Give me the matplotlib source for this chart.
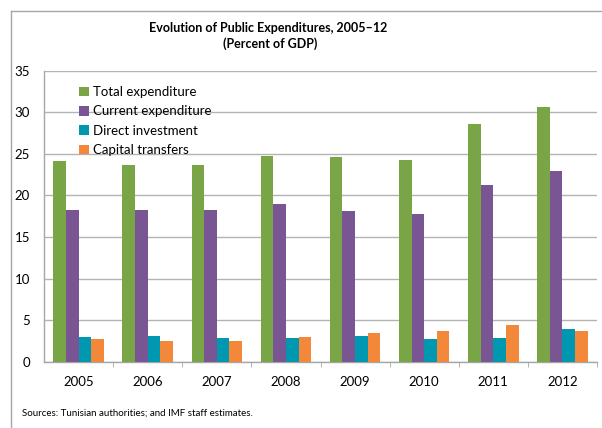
import matplotlib
matplotlib.use("Agg")
import matplotlib.pyplot as plt
from matplotlib.lines import Line2D
from matplotlib.patches import Patch
import numpy as np

plt.rcParams['font.family'] = ['Lato', 'DejaVu Sans']

years = ["2005", "2006", "2007", "2008", "2009", "2010", "2011", "2012"]
total_expenditure = [24.1, 23.6, 23.7, 24.7, 24.6, 24.3, 28.6, 30.6]
current_expenditure = [18.3, 18.2, 18.3, 18.95, 18.1, 17.8, 21.25, 22.9]
direct_investment = [3.0, 3.08, 2.8, 2.8, 3.15, 2.7, 2.85, 3.9]
capital_transfers = [2.7, 2.48, 2.48, 2.93, 3.4, 3.68, 4.4, 3.68]

series_names = ["Total expenditure", "Current expenditure",
                "Direct investment", "Capital transfers"]
series_values = [total_expenditure, current_expenditure,
                 direct_investment, capital_transfers]
colors = ["#7aa547", "#7a5593", "#0097b1", "#f4883a"]

W, H = 602, 428
fig = plt.figure(figsize=(W / 100, H / 100), dpi=100)

# plot area in pixel coordinates
left, right, top, bottom = 44, 597, 70.7, 361.7
ax = fig.add_axes([left / W, 1 - bottom / H, (right - left) / W, (bottom - top) / H])

x = np.arange(len(years))
bw = 0.183
offsets = (np.arange(4) - 1.5) * bw
for vals, off, col, name in zip(series_values, offsets, colors, series_names):
    ax.bar(x + off, vals, width=bw, color=col, edgecolor="none", label=name, zorder=3)

ax.set_xlim(-0.5, len(years) - 0.5)
ax.set_ylim(0, 35)
ax.set_yticks(np.arange(0, 36, 5))
ax.yaxis.grid(True, color="#b3b3b3", linewidth=1.0, zorder=0)
ax.set_axisbelow(True)

ax.set_xticks(x)
ax.set_xticklabels(years)
ax.set_xticks(np.arange(len(years)) + 0.5, minor=True)
ax.tick_params(axis="x", which="major", length=0, pad=10, labelsize=9.5)
ax.tick_params(axis="x", which="minor", length=3.5, direction="out", color="#a6a6a6")
ax.tick_params(axis="y", length=0, pad=10, labelsize=9.5)

for s in ["top", "right"]:
    ax.spines[s].set_visible(False)
for s in ["left", "bottom"]:
    ax.spines[s].set_color("#a6a6a6")
    ax.spines[s].set_linewidth(1.0)

handles = [Patch(facecolor=c, edgecolor="none") for c in colors]
ax.legend(handles, series_names, loc="upper left",
          bbox_to_anchor=(79 / W, 1 - 86 / H), bbox_transform=fig.transFigure,
          frameon=False, fontsize=9.5, handlelength=0.75, handleheight=0.75,
          handletextpad=0.3, labelspacing=0.56, borderaxespad=0, borderpad=0)

fig.text(268 / W, 1 - 28 / H, "Evolution of Public Expenditures, 2005\u201312",
         ha="center", va="center", fontsize=9, fontweight="bold")
fig.text(270 / W, 1 - 44 / H, "(Percent of GDP)",
         ha="center", va="center", fontsize=9, fontweight="bold")
fig.text(22 / W, 1 - 413 / H, "Sources: Tunisian authorities; and IMF staff estimates.",
         ha="left", va="center", fontsize=7)

# outer frame
fig.add_artist(Line2D([10.5 / W, 10.5 / W], [0, 1 - 11 / H], transform=fig.transFigure,
                      color="#a6a6a6", linewidth=1.0))
fig.add_artist(Line2D([10.5 / W, 1], [1 - 11 / H, 1 - 11 / H], transform=fig.transFigure,
                      color="#a6a6a6", linewidth=1.0))

fig.savefig("out.png", dpi=100)
